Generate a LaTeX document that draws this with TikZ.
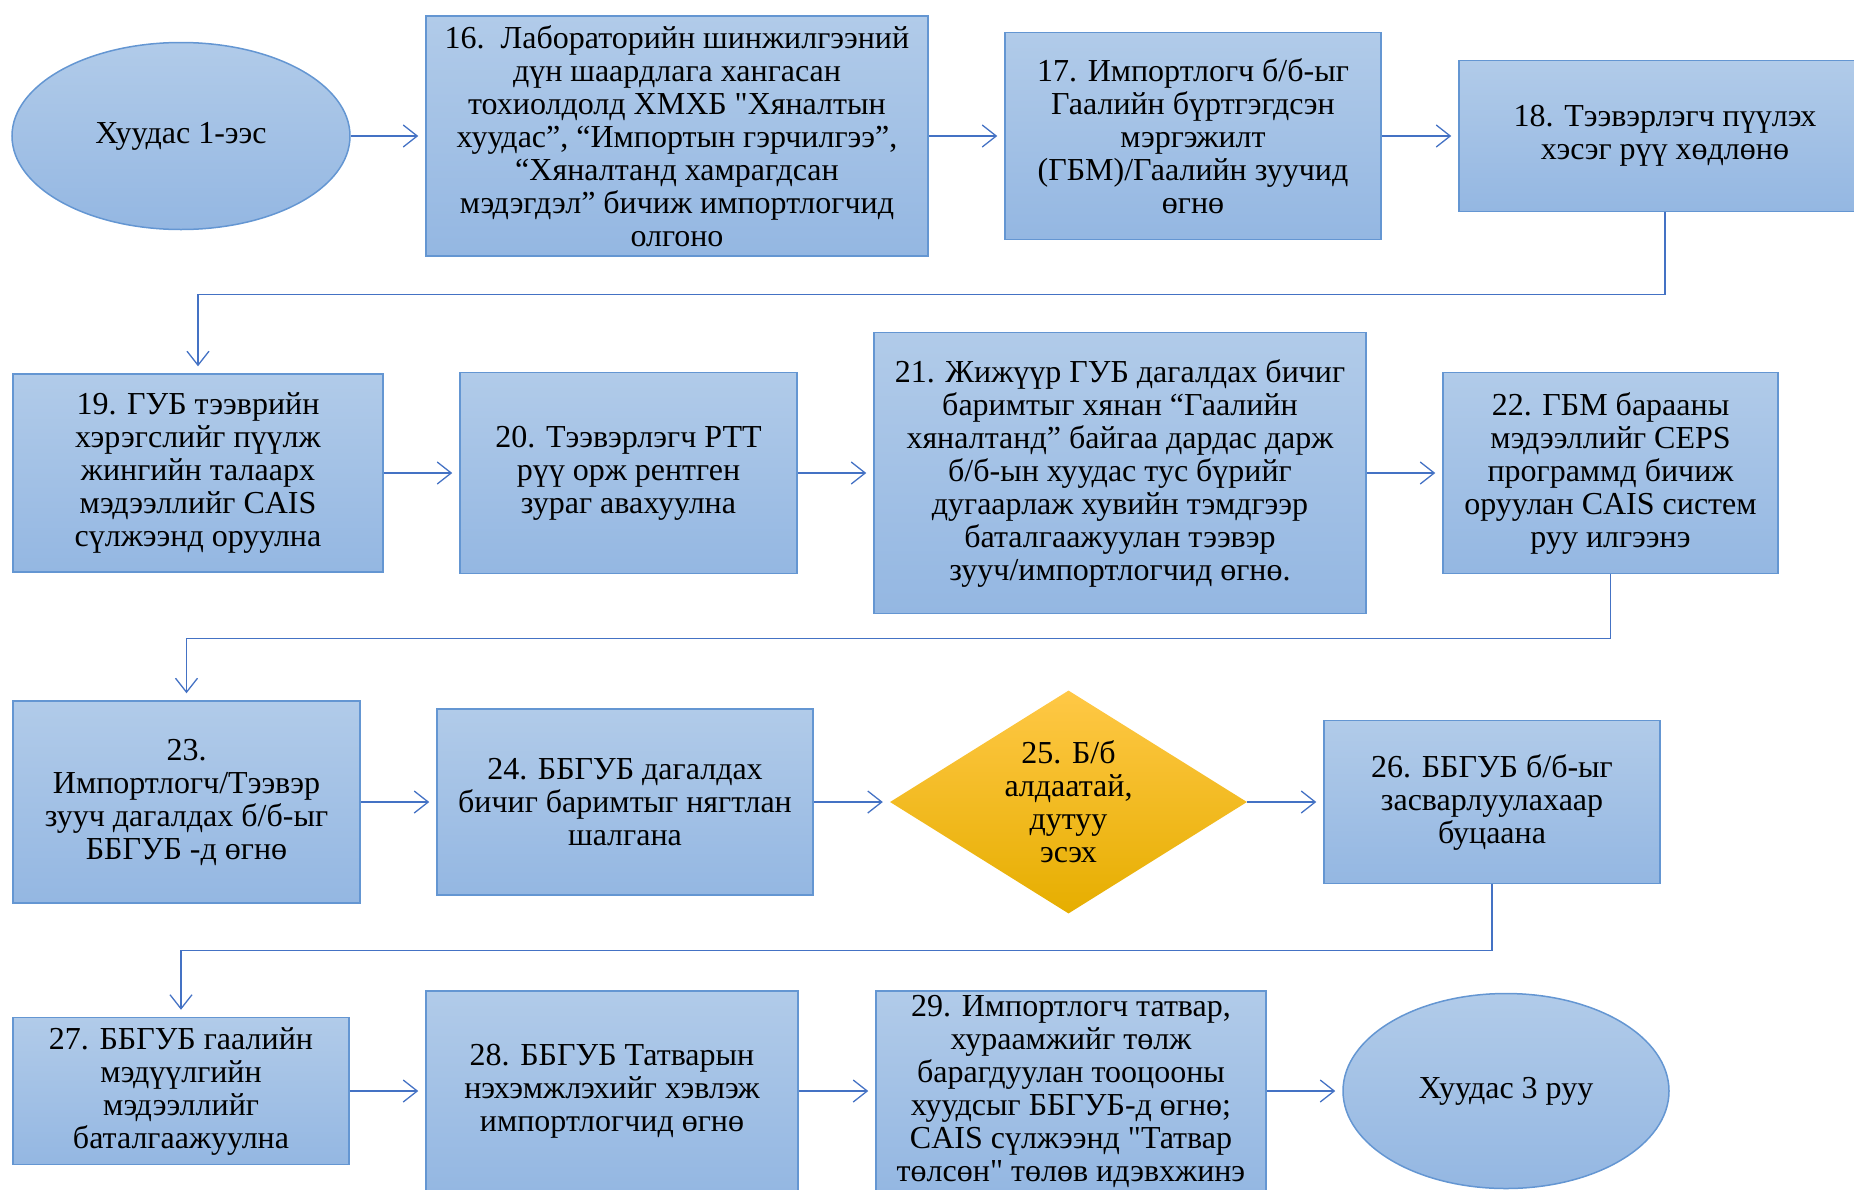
\documentclass[tikz,border=0pt]{standalone}
\usepackage{fontspec}
\setmainfont{Liberation Serif}[Ligatures=TeXOff]
\usetikzlibrary{arrows.meta,positioning,shapes.geometric}
\definecolor{boxtop}{RGB}{177,203,233}
\definecolor{boxbot}{RGB}{148,183,226}
\definecolor{boxline}{RGB}{100,150,210}
\definecolor{arrowblue}{RGB}{68,114,196}
\definecolor{goldtop}{RGB}{255,200,70}
\definecolor{goldmid}{RGB}{255,192,0}
\definecolor{goldbot}{RGB}{230,174,0}

\begin{document}
\begin{tikzpicture}[x=1pt, y=-1pt, every node/.style={font=\fontsize{32}{33}\selectfont}, box/.style={draw=boxline, line width=1.5pt, top color=boxtop, bottom color=boxbot, align=center, inner sep=0pt}, page/.style={ellipse, draw=boxline, line width=1.5pt, top color=boxtop, bottom color=boxbot, align=center, inner sep=0pt}, decision/.style={diamond, aspect=1.6, top color=goldtop, middle color=goldmid, bottom color=goldbot, align=center, inner sep=0pt}, arrow/.style={-{Straight Barb[length=14pt,width=22pt]}, draw=arrowblue, line width=1.3pt, shorten >=7pt}]
\useasboundingbox (0,0) rectangle (1854,1189);
% row 1
\node[page, minimum width=338pt, minimum height=187pt] (from1) at (181,136) {Хуудас 1-ээс};
\node[box, minimum width=502pt, minimum height=240pt] (lab) at (677,136) {16.\ \ Лабораторийн шинжилгээний\\дүн шаардлага хангасан\\тохиолдолд ХМХБ "Хяналтын\\хуудас”, “Импортын гэрчилгээ”,\\“Хяналтанд хамрагдсан\\мэдэгдэл” бичиж импортлогчид\\олгоно};
\node[box, minimum width=376pt, minimum height=207pt] (gbm) at (1193,136) {17. Импортлогч б/б-ыг\\Гаалийн бүртгэгдсэн\\мэргэжилт\\(ГБМ)/Гаалийн зуучид\\өгнө};
\node[box, minimum width=412pt, minimum height=151pt] (move) at (1665,136) {18. Тээвэрлэгч пүүлэх\\хэсэг рүү хөдлөнө};
% row 2
\node[box, minimum width=370pt, minimum height=198pt] (weigh) at (198,473) {19. ГУБ тээврийн\\хэрэгслийг пүүлж\\жингийн талаарх\\мэдээллийг CAIS\\сүлжээнд оруулна};
\node[box, minimum width=337pt, minimum height=201pt] (xray) at (628.5,473) {20. Тээвэрлэгч РТТ\\рүү орж рентген\\зураг авахуулна};
\node[box, minimum width=492pt, minimum height=281pt] (duty) at (1120,473) {21. Жижүүр ГУБ дагалдах бичиг\\баримтыг хянан “Гаалийн\\хяналтанд” байгаа дардас дарж\\б/б-ын хуудас тус бүрийг\\дугаарлаж хувийн тэмдгээр\\баталгаажуулан тээвэр\\зууч/импортлогчид өгнө.};
\node[box, minimum width=335pt, minimum height=201pt] (ceps) at (1610.5,473) {22. ГБМ барааны\\мэдээллийг CEPS\\программд бичиж\\оруулан CAIS систем\\руу илгээнэ};
% row 3
\node[box, minimum width=347pt, minimum height=202pt] (hand) at (186.5,802) {23.\\Импортлогч/Тээвэр\\зууч дагалдах б/б-ыг\\ББГУБ -д өгнө};
\node[box, minimum width=376pt, minimum height=186pt] (check) at (625,802) {24. ББГУБ дагалдах\\бичиг баримтыг нягтлан\\шалгана};
\node[decision, minimum width=357pt, minimum height=223pt] (err) at (1068.5,802) {25. Б/б\\алдаатай,\\дутуу\\эсэх};
\node[box, minimum width=336pt, minimum height=163pt] (back) at (1492,802) {26. ББГУБ б/б-ыг\\засварлуулахаар\\буцаана};
% row 4
\node[box, minimum width=336pt, minimum height=147pt] (decl) at (181,1091) {27. ББГУБ гаалийн\\мэдүүлгийн\\мэдээллийг\\баталгаажуулна};
\node[box, minimum width=372pt, minimum height=200pt] (invoice) at (612,1091) {28. ББГУБ Татварын\\нэхэмжлэхийг хэвлэж\\импортлогчид өгнө};
\node[box, minimum width=390pt, minimum height=200pt] (tax) at (1071,1091) {29. Импортлогч татвар,\\хураамжийг төлж\\барагдуулан тооцооны\\хуудсыг ББГУБ-д өгнө;\\CAIS сүлжээнд "Татвар\\төлсөн" төлөв идэвхжинэ};
\node[page, minimum width=326pt, minimum height=195pt] (to3) at (1506,1091) {Хуудас 3 руу};
\draw[arrow] (from1)--(lab); \draw[arrow] (lab)--(gbm); \draw[arrow] (gbm)--(move);
\draw[arrow] (move.south) -- ++(0,82) -| (weigh.north);
\draw[arrow] (weigh)--(xray); \draw[arrow] (xray)--(duty); \draw[arrow] (duty)--(ceps);
\draw[arrow] (ceps.south) -- ++(0,64) -| (hand.north);
\draw[arrow] (hand)--(check); \draw[arrow] (check)--(err); \draw[arrow] (err)--(back);
\draw[arrow] (back.south) -- ++(0,66) -| (decl.north);
\draw[arrow] (decl)--(invoice); \draw[arrow] (invoice)--(tax); \draw[arrow] (tax)--(to3);
\end{tikzpicture}
\end{document}
